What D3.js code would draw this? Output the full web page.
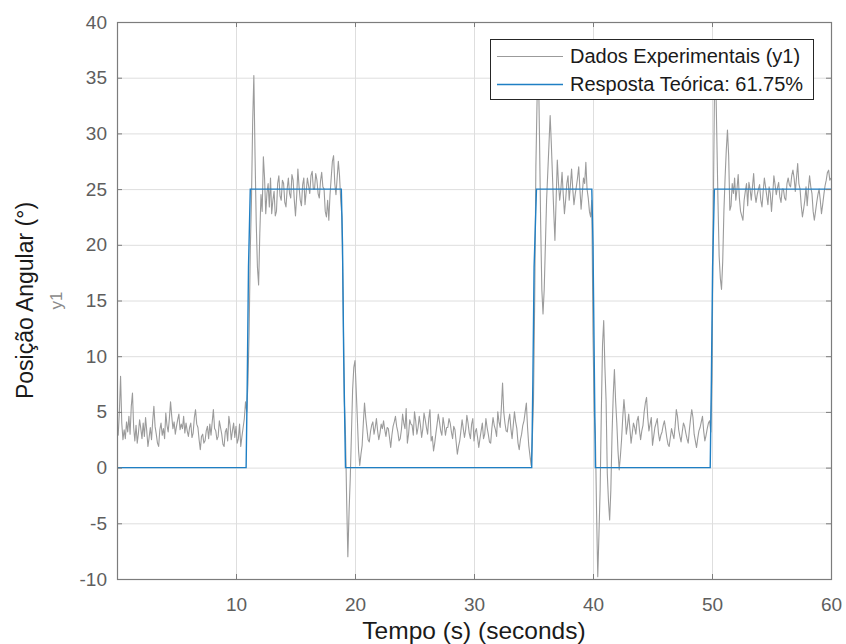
<!DOCTYPE html>
<html>
<head>
<meta charset="utf-8">
<script src="https://cdn.jsdelivr.net/npm/d3@7"></script>
<style>
  html, body { margin: 0; padding: 0; background: #fff; }
  svg { display: block; font-family: "Liberation Sans", Arial, Helvetica, sans-serif; }
</style>
</head>
<body>
<svg id="chart" width="846" height="644"></svg>
<script>
// ---- Data ----
const dt = 0.1; // sample step (s) of the experimental series
const dadosExperimentais = [
  3.7, 2.9, 5.0, 8.2, 4.0, 2.5, 3.4, 2.6, 4.1, 3.2,            // 0 s
  4.6, 3.0, 5.5, 6.7, 3.6, 2.4, 3.8, 2.2, 3.1, 4.3,            // 1
  3.5, 2.6, 4.0, 2.8, 4.5, 3.3, 1.9, 2.7, 3.6, 2.5,            // 2
  4.2, 5.5, 3.7, 3.0, 2.2, 1.9, 3.4, 4.0, 2.9, 3.5,            // 3
  2.6, 4.9, 3.8, 3.2, 4.4, 5.9, 4.6, 3.5, 4.1, 3.0,            // 4
  3.7, 4.3, 4.8, 3.4, 3.9, 3.5, 4.6, 3.1, 4.0, 3.3,            // 5
  2.8, 3.6, 4.0, 2.7, 3.1, 4.5, 5.2, 3.9, 3.6, 2.5,            // 6
  1.6, 2.8, 3.0, 2.2, 2.4, 3.3, 3.7, 2.6, 3.9, 2.9,            // 7
  4.1, 5.2, 3.5, 3.3, 2.5, 2.8, 4.2, 3.6, 3.0, 2.1,            // 8
  1.9, 3.2, 3.5, 2.4, 4.6, 3.8, 2.5, 3.3, 4.0, 2.7,            // 9
  3.7, 2.2, 2.6, 3.9, 1.9, 2.8, 3.6, 4.4, 5.9, 5.0,            // 10
  7.5, 12.0, 19.5, 24.0, 31.0, 35.2, 28.0, 22.0, 18.0, 16.4,   // 11
  21.0, 24.5, 23.0, 27.9, 26.0, 22.8, 24.6, 25.5, 23.4, 26.0,  // 12
  22.8, 24.0, 24.8, 22.6, 23.0, 25.5, 26.2, 24.4, 24.0, 25.8,  // 13
  25.5, 23.8, 23.4, 25.0, 26.0, 24.6, 24.2, 26.3, 25.8, 24.0,  // 14
  22.6, 24.4, 26.8, 25.2, 24.0, 23.5, 25.4, 26.0, 23.6, 24.8,  // 15
  26.0, 25.3, 24.6, 26.2, 26.6, 25.0, 25.0, 26.4, 25.8, 24.6,  // 16
  24.2, 25.7, 26.5, 25.2, 25.0, 23.0, 22.5, 24.0, 22.2, 24.5,  // 17
  26.0, 27.5, 28.0, 25.5, 24.5, 26.0, 27.5, 26.2, 24.0, 22.5,  // 18
  15.0, 6.0, 3.0, -3.0, -8.0, -4.0, -1.0, 3.0, 7.0, 9.0,       // 19
  9.6, 7.0, 4.3, 1.5, 0.2, 1.2, 2.0, 4.0, 5.8, 4.5,            // 20
  3.5, 2.5, 2.3, 3.2, 3.8, 4.1, 3.0, 3.6, 4.4, 3.3,            // 21
  2.5, 3.1, 3.9, 3.5, 4.2, 3.4, 2.8, 3.6, 3.5, 2.7,            // 22
  1.8, 2.9, 3.7, 4.1, 4.6, 3.7, 3.2, 2.4, 2.6, 3.4,            // 23
  4.8, 4.0, 3.5, 5.3, 2.2, 3.0, 4.3, 3.9, 3.8, 2.9,            // 24
  5.0, 4.2, 3.0, 3.6, 4.6, 3.8, 2.7, 3.5, 4.9, 4.3,            // 25
  3.6, 3.0, 4.4, 5.2, 2.4, 2.8, 1.5, 2.2, 3.1, 3.9,            // 26
  4.8, 4.1, 3.3, 2.9, 4.5, 3.8, 2.9, 3.6, 3.6, 4.4,            // 27
  4.0, 3.2, 2.6, 3.7, 3.4, 2.3, 1.2, 1.9, 2.4, 3.3,            // 28
  4.3, 3.5, 2.7, 3.4, 4.7, 4.0, 3.1, 2.6, 3.9, 4.4,            // 29
  2.4, 3.2, 3.5, 2.7, 1.8, 2.6, 3.3, 4.0, 2.6, 3.0,            // 30
  4.4, 3.6, 3.0, 2.3, 2.2, 3.5, 4.5, 3.8, 3.4, 2.8,            // 31
  5.0, 4.1, 3.6, 5.4, 7.6, 5.0, 4.0, 3.3, 3.2, 4.2,            // 32
  4.8, 3.5, 2.6, 3.8, 5.0, 4.1, 3.5, 2.2, 1.6, 2.5,            // 33
  3.0, 3.8, 4.2, 5.0, 5.8, 3.6, 2.0, 1.1, 0.2, 2.5,            // 34
  6.0, 15.0, 27.0, 33.0, 37.0, 30.0, 22.0, 16.0, 13.8, 16.0,   // 35
  20.0, 24.0, 26.5, 29.0, 31.6, 29.0, 26.0, 23.0, 20.4, 24.0,  // 36
  27.6, 25.5, 24.0, 25.0, 26.5, 24.5, 22.8, 24.0, 25.5, 26.2,  // 37
  24.0, 25.3, 26.8, 25.0, 23.6, 24.5, 25.2, 26.0, 27.0, 25.0,  // 38
  23.2, 24.6, 26.0, 25.5, 27.4, 25.0, 24.2, 23.0, 22.5, 24.0,  // 39
  12.0, 5.0, 3.0, -4.0, -9.8, -6.0, -2.0, 5.0, 11.0, 13.2,     // 40
  9.0, 6.0, -0.5, -3.0, -4.7, -2.0, 3.0, 6.5, 8.8, 6.0,        // 41
  4.0, 1.5, -0.2, 1.0, 2.5, 4.5, 6.1, 4.8, 3.0, 3.8,           // 42
  4.8, 3.5, 2.2, 3.1, 4.0, 3.6, 3.0, 4.2, 4.6, 3.4,            // 43
  2.5, 3.3, 3.8, 5.0, 5.8, 6.3, 4.5, 3.3, 3.9, 4.5,            // 44
  2.0, 2.8, 3.6, 4.0, 4.4, 3.1, 2.4, 2.9, 3.2, 3.8,            // 45
  4.2, 3.5, 2.7, 2.1, 1.9, 2.7, 3.5, 3.0, 2.6, 3.7,            // 46
  5.2, 4.6, 3.4, 2.8, 2.3, 3.2, 4.0, 3.7, 3.1, 2.6,            // 47
  2.2, 3.4, 4.4, 5.2, 4.5, 3.0, 2.4, 1.8, 2.6, 3.3,            // 48
  3.6, 4.1, 4.6, 3.3, 2.4, 2.9, 3.5, 4.0, 4.2, 3.2,            // 49
  8.0, 22.0, 33.0, 36.0, 30.0, 24.0, 19.0, 17.0, 16.0, 18.5,   // 50
  23.0, 26.0, 28.5, 30.3, 28.0, 23.1, 23.5, 25.5, 24.6, 26.0,  // 51
  24.0, 25.0, 26.3, 24.2, 23.0, 22.6, 22.2, 24.0, 24.8, 25.5,  // 52
  23.5, 25.6, 25.0, 24.0, 25.2, 26.4, 24.6, 23.8, 24.5, 25.0,  // 53
  25.4, 24.0, 23.4, 24.8, 26.0, 25.2, 24.4, 23.6, 25.2, 24.6,  // 54
  23.0, 24.5, 26.2, 25.4, 24.5, 25.1, 25.6, 24.3, 23.8, 25.0,  // 55
  25.0, 24.2, 24.0, 25.5, 26.0, 25.4, 25.2, 26.2, 26.7, 26.0,  // 56
  24.8, 26.0, 27.3, 25.5, 25.0, 23.5, 22.5, 23.2, 24.0, 25.2,  // 57
  23.5, 25.0, 26.2, 25.2, 24.6, 23.0, 22.2, 23.0, 23.8, 24.5,  // 58
  25.0, 24.0, 22.8, 23.6, 24.5, 25.3, 25.8, 26.5, 26.7, 25.8,  // 59
  26.0                                                          // 60
];
const tempoTeorico = [0, 10.85, 10.95, 11.05, 11.2, 18.85, 18.95, 19.05, 19.2,
  34.85, 34.95, 35.05, 35.25, 39.9, 40.0, 40.1, 40.2, 49.85, 49.95, 50.05, 50.2, 60];
const respostaTeorica = [0, 0, 8, 18, 25, 25, 20, 10, 0,
  0, 8, 18, 25, 25, 20, 10, 0, 0, 8, 18, 25, 25];
const xTicks = [10, 20, 30, 40, 50, 60];
const yTicks = [-10, -5, 0, 5, 10, 15, 20, 25, 30, 35, 40];
const legendLabels = ["Dados Experimentais (y1)", "Resposta Teórica: 61.75%"];
const xLabel = "Tempo (s) (seconds)";
const yLabel = "Posição Angular (°)";
const yName = "y1";

// ---- Drawing ----
const svg = d3.select("#chart");
const L = 117, R = 831, T = 22, B = 579;
const x = d3.scaleLinear().domain([0, 60]).range([L, R]);
const y = d3.scaleLinear().domain([-10, 40]).range([B, T]);

const gridCol = "#dedede", axisCol = "#7c7c7c", tickTextCol = "#5e5e5e";
const fmt = d => String(d);

// grid
svg.append("g").selectAll("line").data(xTicks).join("line")
  .attr("x1", d => x(d) + 0.5).attr("x2", d => x(d) + 0.5)
  .attr("y1", T).attr("y2", B).attr("stroke", gridCol).attr("stroke-width", 1);
svg.append("g").selectAll("line").data(yTicks).join("line")
  .attr("x1", L).attr("x2", R)
  .attr("y1", d => y(d) + 0.5).attr("y2", d => y(d) + 0.5)
  .attr("stroke", gridCol).attr("stroke-width", 1);

// data
svg.append("clipPath").attr("id", "clip").append("rect")
  .attr("x", L).attr("y", T).attr("width", R - L).attr("height", B - T);
const plot = svg.append("g").attr("clip-path", "url(#clip)");

const expPts = dadosExperimentais.map((v, i) => [i * dt, v]);
const teoPts = tempoTeorico.map((t, i) => [t, respostaTeorica[i]]);
const line = d3.line().x(d => x(d[0])).y(d => y(d[1]));

plot.append("path").datum(expPts).attr("d", line)
  .attr("fill", "none").attr("stroke", "#9b9b9b").attr("stroke-width", 1.1)
  .attr("stroke-linejoin", "round");
plot.append("path").datum(teoPts).attr("d", line)
  .attr("fill", "none").attr("stroke", "#1f7fc4").attr("stroke-width", 1.4);

// axes
function styleAxis(g, showText) {
  g.select(".domain").remove();
  g.selectAll(".tick line").attr("stroke", axisCol);
  g.selectAll(".tick text").attr("fill", tickTextCol).style("font-size", "19px")
    .style("font-family", '"Liberation Sans", Arial, sans-serif');
  if (!showText) g.selectAll(".tick text").remove();
}
svg.append("g").attr("transform", `translate(0,${B})`)
  .call(d3.axisBottom(x).tickValues(xTicks).tickFormat(fmt).tickSizeInner(-5).tickSizeOuter(0).tickPadding(19))
  .call(g => styleAxis(g, true));
svg.append("g").attr("transform", `translate(0,${T})`)
  .call(d3.axisTop(x).tickValues(xTicks).tickFormat(fmt).tickSizeInner(-5).tickSizeOuter(0))
  .call(g => styleAxis(g, false));
svg.append("g").attr("transform", `translate(${L},0)`)
  .call(d3.axisLeft(y).tickValues(yTicks).tickFormat(fmt).tickSizeInner(-5).tickSizeOuter(0).tickPadding(10))
  .call(g => styleAxis(g, true));
svg.append("g").attr("transform", `translate(${R},0)`)
  .call(d3.axisRight(y).tickValues(yTicks).tickFormat(fmt).tickSizeInner(-5).tickSizeOuter(0))
  .call(g => styleAxis(g, false));

// box
svg.append("rect").attr("x", L + 0.5).attr("y", T + 0.5)
  .attr("width", R - L).attr("height", B - T)
  .attr("fill", "none").attr("stroke", axisCol).attr("stroke-width", 1.2);

// labels
svg.append("text").attr("x", (L + R) / 2).attr("y", 639).attr("text-anchor", "middle")
  .style("font-size", "24.5px").attr("fill", "#1a1a1a").text(xLabel);
svg.append("text").attr("transform", `translate(33,${(T + B) / 2}) rotate(-90)`)
  .attr("text-anchor", "middle").style("font-size", "23px").attr("fill", "#1a1a1a").text(yLabel);
svg.append("text").attr("transform", `translate(62,${(T + B) / 2}) rotate(-90)`)
  .attr("text-anchor", "middle").style("font-size", "17px").attr("fill", "#8a8a8a").text(yName);

// legend
const lg = svg.append("g");
lg.append("rect").attr("x", 490.5).attr("y", 39.5).attr("width", 323).attr("height", 60)
  .attr("fill", "#fff").attr("stroke", "#262626").attr("stroke-width", 1);
const legendColors = ["#9b9b9b", "#1f7fc4"];
const legendY = [56, 84];
legendLabels.forEach((lab, i) => {
  lg.append("line").attr("x1", 497).attr("x2", 563)
    .attr("y1", legendY[i] + 0.5).attr("y2", legendY[i] + 0.5)
    .attr("stroke", legendColors[i]).attr("stroke-width", i ? 1.4 : 1.1);
  lg.append("text").attr("x", 570).attr("y", legendY[i] + 7).attr("fill", "#1a1a1a")
    .style("font-size", "20px").text(lab);
});
</script>
</body>
</html>
